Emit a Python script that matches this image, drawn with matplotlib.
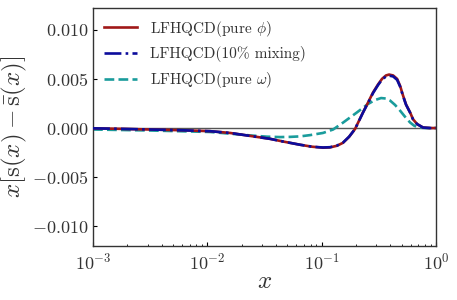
import numpy as np
import matplotlib
matplotlib.use("Agg")
import matplotlib.pyplot as plt

plt.rcParams['mathtext.fontset'] = 'cm'
plt.rcParams['font.family'] = 'serif'
plt.rcParams['font.serif'] = ['cmr10']
plt.rcParams['axes.formatter.use_mathtext'] = True

# log10(x) sample positions and values (in units of 1e-3)
lx_phi = [-3.0, -2.764, -2.501, -2.239, -1.976, -1.801, -1.626, -1.451, -1.338, -1.189,
          -1.084, -0.988, -0.927, -0.865, -0.813, -0.760, -0.708, -0.638, -0.594, -0.550,
          -0.506, -0.472, -0.437, -0.410, -0.375, -0.340, -0.314, -0.288, -0.262, -0.227,
          -0.201, -0.165, -0.113, -0.052, 0.0]
v_phi = [-0.03, -0.08, -0.15, -0.22, -0.32, -0.5, -0.8, -1.1, -1.37, -1.7,
         -1.9, -2.0, -1.97, -1.8, -1.5, -0.9, -0.1, 1.6, 2.6, 3.63,
         4.45, 5.0, 5.35, 5.44, 5.35, 5.0, 4.3, 3.3, 2.4, 1.6,
         0.9, 0.4, 0.05, 0.0, 0.0]

lx_mix = lx_phi
v_mix = [-0.03, -0.08, -0.15, -0.22, -0.32, -0.5, -0.8, -1.1, -1.37, -1.7,
         -1.9, -1.98, -1.95, -1.78, -1.48, -0.88, -0.1, 1.58, 2.56, 3.57,
         4.38, 4.92, 5.25, 5.33, 5.25, 4.9, 4.22, 3.25, 2.37, 1.58,
         0.89, 0.4, 0.05, 0.0, 0.0]

lx_omega = [-3.0, -2.501, -1.976, -1.626, -1.478, -1.363, -1.276, -1.189, -1.101, -0.988,
            -0.900, -0.813, -0.690, -0.594, -0.533, -0.480, -0.437, -0.402, -0.358, -0.314,
            -0.271, -0.227, -0.192, -0.157, -0.096, 0.0]
v_omega = [-0.15, -0.25, -0.4, -0.75, -0.88, -0.92, -0.9, -0.85, -0.72, -0.5,
           -0.15, 0.55, 1.6, 2.45, 2.85, 3.05, 3.0, 2.8, 2.35, 1.77,
           1.15, 0.57, 0.25, 0.06, 0.0, 0.0]

labels = [r'LFHQCD(pure $\phi$)', r'LFHQCD(10% mixing)', r'LFHQCD(pure $\omega$)']

fig = plt.figure(figsize=(4.57, 3.0), dpi=100)
ax = fig.add_axes([0.2035, 0.18, 0.7505, 0.793])

ax.axhline(0, color='#555555', lw=1.0, zorder=1)
ax.plot(10 ** np.array(lx_phi), np.array(v_phi) * 1e-3, color='#a01818', lw=1.9, ls='-', label=labels[0], zorder=3)
ax.plot(10 ** np.array(lx_mix), np.array(v_mix) * 1e-3, color='#0c0c9c', lw=1.9, ls='-.', label=labels[1], zorder=4)
ax.plot(10 ** np.array(lx_omega), np.array(v_omega) * 1e-3, color='#1a9c9c', lw=1.9, ls='--', label=labels[2], zorder=2)

ax.set_xscale('log')
ax.set_xlim(1e-3, 1)
ax.set_ylim(-0.012, 0.0122)
ax.set_yticks([-0.010, -0.005, 0.0, 0.005, 0.010])
ax.set_yticklabels(['$-0.010$', '$-0.005$', '$0.000$', '$0.005$', '$0.010$'])
ax.tick_params(which='major', direction='in', length=3, labelsize=13, labelcolor='#333333')
ax.tick_params(which='minor', direction='in', length=1.8)
ax.tick_params(axis='x', pad=4)

for s in ax.spines.values():
    s.set_color('#333333')
    s.set_linewidth(1.0)

ax.set_xlabel(r'$x$', fontsize=18, labelpad=-1, color='#333333')
ax.set_ylabel(r'$x[\mathrm{s}(x)-\bar{\mathrm{s}}(x)]$', fontsize=18, labelpad=2, color='#333333')

leg = ax.legend(loc='upper left', frameon=False, fontsize=11, handlelength=2.2,
                borderaxespad=0.3, labelspacing=0.5)
for t in leg.get_texts():
    t.set_color('#333333')

fig.savefig('out.png', dpi=100)
